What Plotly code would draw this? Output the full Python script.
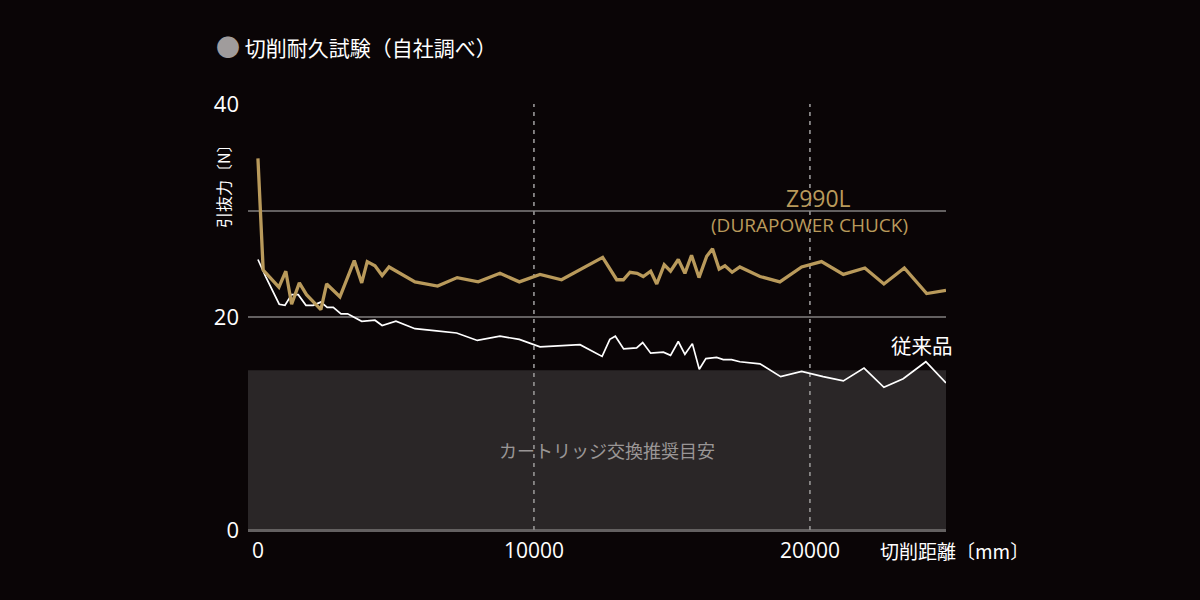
import plotly.graph_objects as go

# Z990L (DURAPOWER CHUCK)
z_x = [0, 190, 760, 1010, 1220, 1500, 1760, 2280, 2490, 2970, 3490, 3760, 3960, 4240, 4500, 4750,
       5690, 6510, 7220, 7980, 8770, 9470, 10220, 11000, 12490, 13000, 13240, 13480, 13740, 13960,
       14230, 14450, 14720, 14950, 15230, 15470, 15710, 15980, 16260, 16470, 16710, 16920, 17180,
       17460, 18190, 18910, 19700, 20420, 21210, 21990, 22680, 23420, 24230, 24930]
z_y = [34.9, 24.4, 22.8, 24.3, 21.2, 23.2, 22.1, 20.7, 23.1, 21.9, 25.3, 23.2, 25.2, 24.8, 23.9, 24.7,
       23.3, 22.9, 23.7, 23.3, 24.1, 23.3, 24.0, 23.5, 25.6, 23.5, 23.5, 24.2, 24.1, 23.8,
       24.3, 23.1, 24.9, 24.3, 25.4, 24.1, 25.8, 23.7, 25.7, 26.4, 24.5, 24.8, 24.2,
       24.7, 23.8, 23.3, 24.7, 25.2, 24.0, 24.6, 23.1, 24.6, 22.2, 22.5]

# 従来品
c_x = [0, 280, 770, 980, 1220, 1460, 1740, 2000, 2280, 2510, 2730, 3010, 3250, 3760, 4240, 4500,
       5000, 5690, 6470, 7200, 7950, 8770, 9470, 10220, 11670, 12470, 12750, 12950, 13250, 13720,
       13940, 14230, 14690, 14950, 15230, 15470, 15740, 15990, 16230, 16620, 16860, 17160, 17460,
       18190, 18940, 19700, 20480, 21210, 21960, 22680, 23380, 24200, 24930]
c_y = [25.4, 23.8, 21.2, 21.1, 22.1, 22.1, 21.1, 21.1, 21.4, 20.9, 20.9, 20.3, 20.3, 19.6, 19.7, 19.2,
       19.6, 18.9, 18.7, 18.5, 17.8, 18.2, 17.9, 17.2, 17.4, 16.3, 17.9, 18.2, 17.0, 17.1,
       17.6, 16.6, 16.7, 16.4, 17.7, 16.5, 17.5, 15.1, 16.1, 16.2, 16.0, 16.0, 15.8,
       15.6, 14.4, 14.9, 14.4, 14.0, 15.2, 13.4, 14.2, 15.8, 13.8]

threshold = 15
ref_lines_x = [10000, 20000]
y_ticks = [0, 20, 30, 40]
y_labels = ["0", "20", "", "40"]
x_ticks = [0, 10000, 20000]
x_labels = ["0", "10000", "20000"]

GOLD = "#b99a5b"
GRID = "#636060"
FONT = "Noto Sans CJK JP"

fig = go.Figure()
fig.add_trace(go.Scatter(x=c_x, y=c_y, mode="lines", line=dict(color="#ffffff", width=1.7),
                         showlegend=False, hoverinfo="skip"))
fig.add_trace(go.Scatter(x=z_x, y=z_y, mode="lines", line=dict(color=GOLD, width=3.3),
                         showlegend=False, hoverinfo="skip"))

# recommended replacement zone
fig.add_shape(type="rect", xref="paper", x0=0, x1=1, yref="y", y0=0, y1=threshold,
              fillcolor="#2a2627", line=dict(width=0), layer="between")
for xv in ref_lines_x:
    fig.add_shape(type="line", xref="x", x0=xv, x1=xv, yref="y", y0=0, y1=40,
                  line=dict(color="#8a8888", width=1.8, dash="4px,5px"), layer="between")

fig.add_annotation(x=12650, y=7.5, xref="x", yref="y", text="カートリッジ交換推奨目安",
                   showarrow=False, font=dict(family=FONT, size=18, color="#9a9696"))
fig.add_annotation(x=20300, y=31.2, xref="x", yref="y", text="Z990L",
                   showarrow=False, font=dict(family="Open Sans", size=23, color=GOLD))
fig.add_annotation(x=20000, y=28.6, xref="x", yref="y", text="(DURAPOWER CHUCK)",
                   showarrow=False, font=dict(family="Open Sans", size=19, color=GOLD))
fig.add_annotation(x=24050, y=17.4, xref="x", yref="y", text="従来品",
                   showarrow=False, font=dict(family=FONT, size=20.5, color="#ffffff"))

# title
fig.add_annotation(x=(214 - 248) / 698, y=1 + (104 - 45) / 426, xref="paper", yref="paper",
                   xanchor="left", yanchor="middle",
                   text="<span style='color:#a09c9c;font-size:24px'>●</span> 切削耐久試験（自社調べ）",
                   showarrow=False, font=dict(family=FONT, size=21, color="#ffffff"))
# y axis title
fig.add_annotation(x=(223 - 248) / 698, y=(530 - 182) / 426, xref="paper", yref="paper",
                   xanchor="center", yanchor="middle",
                   text="引抜力〔N〕", textangle=-90, showarrow=False,
                   font=dict(family=FONT, size=16, color="#ffffff"))
# x axis title
fig.add_annotation(x=(878 - 248) / 698, y=-(550 - 530) / 426, xref="paper", yref="paper",
                   xanchor="left", yanchor="middle", text="切削距離〔mm〕", showarrow=False,
                   font=dict(family=FONT, size=19, color="#ffffff"))

fig.update_layout(
    width=1200, height=600,
    margin=dict(l=248, r=254, t=104, b=70),
    paper_bgcolor="#0a0506", plot_bgcolor="#0a0506",
    xaxis=dict(range=[-360, 24930], tickvals=x_ticks, ticktext=x_labels, showgrid=False,
               zeroline=False, showline=False, ticks="", ticklabelstandoff=6,
               tickfont=dict(family="Open Sans", size=21, color="#ffffff")),
    yaxis=dict(range=[0, 40], tickvals=y_ticks, ticktext=y_labels, showgrid=True,
               gridcolor=GRID, gridwidth=2, zeroline=True, zerolinecolor=GRID, zerolinewidth=3,
               showline=False, ticks="", ticklabelstandoff=8,
               tickfont=dict(family="Open Sans", size=22, color="#ffffff")),
)

fig.write_html("out.html", config={"displayModeBar": False},
               post_script="document.body.style.margin='0';document.body.style.background='#0a0506';")
